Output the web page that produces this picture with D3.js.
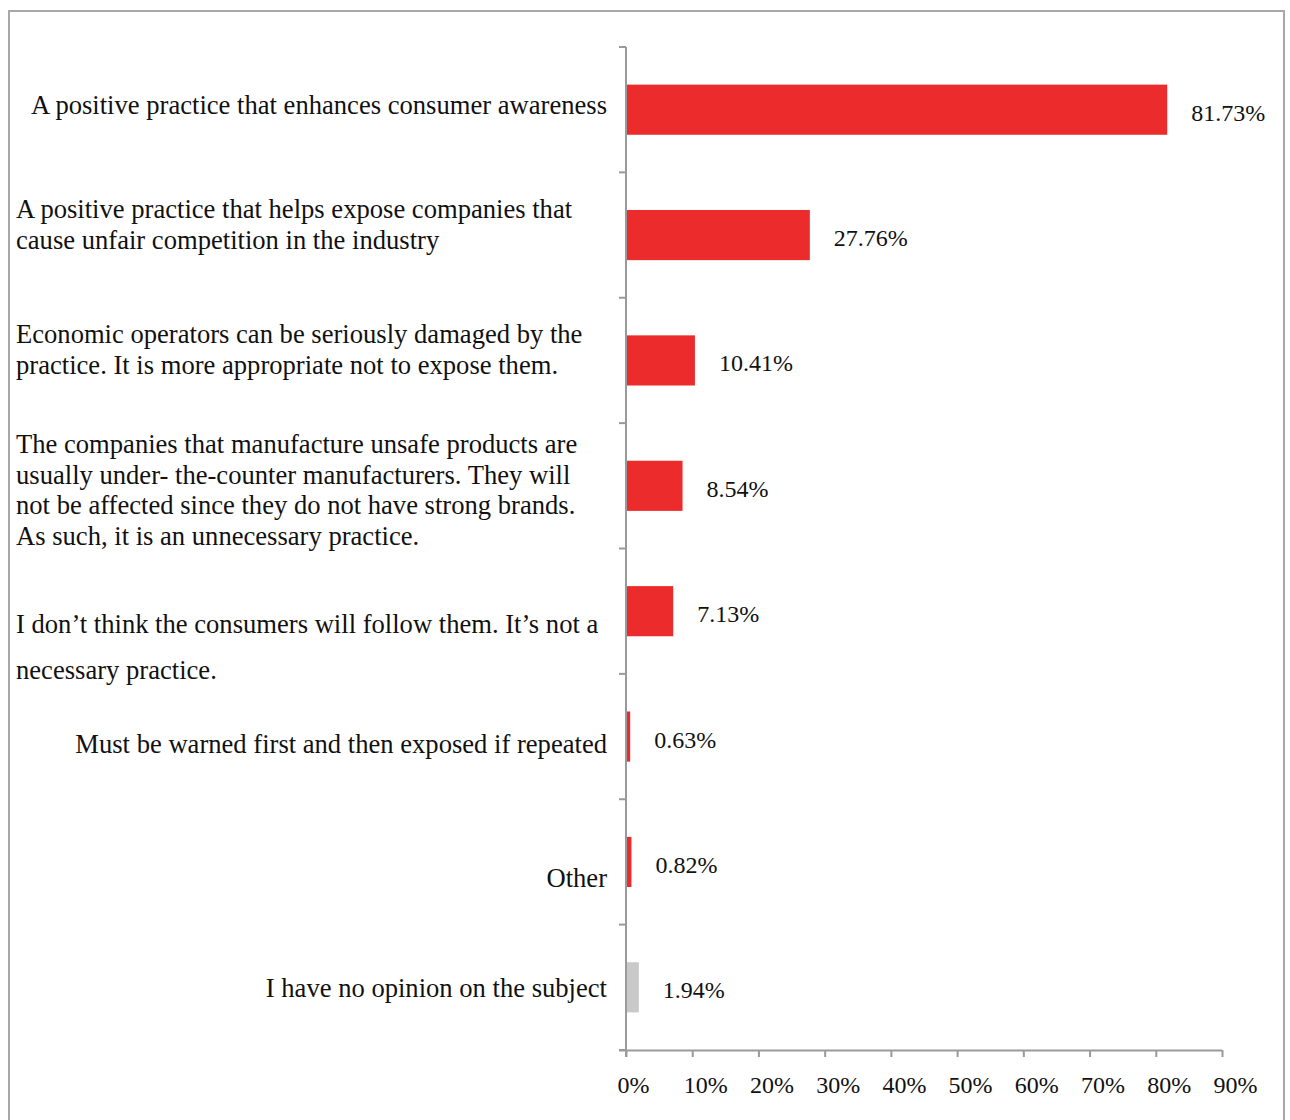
<!DOCTYPE html>
<html>
<head>
<meta charset="utf-8">
<script src="https://cdn.jsdelivr.net/npm/d3@7"></script>
<style>
  html, body { margin: 0; padding: 0; background: #fff; }
  svg { display: block; }
  text { font-family: "Liberation Serif", "Times New Roman", serif; fill: #111; }
</style>
</head>
<body>
<svg id="chart" width="1290" height="1120"></svg>
<script>
// Survey answers, top to bottom (each entry is the list of lines of the answer text)
const categories = [
  ["A positive practice that enhances consumer awareness"],
  ["A positive practice that helps expose companies that",
   "cause unfair competition in the industry"],
  ["Economic operators can be seriously damaged by the",
   "practice. It is more appropriate not to expose them."],
  ["The companies that manufacture unsafe products are",
   "usually under- the-counter manufacturers. They will",
   "not be affected since they do not have strong brands.",
   "As such, it is an unnecessary practice."],
  ["I don\u2019t think the consumers will follow them. It\u2019s not a",
   "necessary practice."],
  ["Must be warned first and then exposed if repeated"],
  ["Other"],
  ["I have no opinion on the subject"]
];
// Share of respondents (%)
const values = [81.73, 27.76, 10.41, 8.54, 7.13, 0.63, 0.82, 1.94];
const valueLabels = ["81.73%", "27.76%", "10.41%", "8.54%", "7.13%", "0.63%", "0.82%", "1.94%"];
// Percent axis ticks
const xTicks = [0, 10, 20, 30, 40, 50, 60, 70, 80, 90];
const xTickLabels = ["0%", "10%", "20%", "30%", "40%", "50%", "60%", "70%", "80%", "90%"];

const svg = d3.select("#chart");
const axisColor = "#9a9a9a";
const barRed = "#ec2b2c";
const barGray = "#c9c9c9";

// Outer frame
svg.append("path")
  .attr("d", "M9,1125 L9,11 L1284,11 L1284,1125")
  .attr("fill", "none").attr("stroke", "#a8a8a8").attr("stroke-width", 2);

const plotLeft = 626, plotRight = 1222, plotTop = 47, plotBottom = 1050;
const x = d3.scaleLinear().domain([0, 90]).range([plotLeft, plotRight]);
const ids = categories.map((_, i) => i);
const y = d3.scaleBand().domain(ids).range([plotTop, plotBottom])
  .paddingInner(0.6).paddingOuter(0.3);
const step = y.step();

// Bars
svg.append("g").selectAll("rect").data(ids).join("rect")
  .attr("x", x(0))
  .attr("y", i => y(i))
  .attr("width", i => x(values[i]) - x(0))
  .attr("height", y.bandwidth())
  .attr("fill", i => i === ids.length - 1 ? barGray : barRed);

// Value labels
svg.append("g").selectAll("text").data(ids).join("text")
  .attr("x", i => x(values[i]) + 24)
  .attr("y", i => y(i) + y.bandwidth() / 2 + 11)
  .attr("font-size", 24)
  .text(i => valueLabels[i]);

// Category axis: vertical line with ticks at band boundaries
const yAxis = svg.append("g");
yAxis.append("line")
  .attr("x1", plotLeft).attr("x2", plotLeft).attr("y1", plotTop).attr("y2", plotBottom + 7)
  .attr("stroke", axisColor).attr("stroke-width", 2);
const bounds = ids.map(i => y(i) - (step - y.bandwidth()) / 2).concat([plotBottom]);
yAxis.selectAll("line.tick").data(bounds).join("line")
  .attr("class", "tick")
  .attr("x1", plotLeft - 7).attr("x2", plotLeft).attr("y1", d => d).attr("y2", d => d)
  .attr("stroke", axisColor).attr("stroke-width", 2);

// Percent axis
const xAxis = svg.append("g").attr("transform", `translate(0,${plotBottom})`)
  .call(d3.axisBottom(x).tickValues(xTicks).tickSize(7).tickSizeOuter(0)
    .tickFormat((d, i) => xTickLabels[i]));
xAxis.select(".domain").attr("stroke", axisColor).attr("stroke-width", 2)
  .attr("d", `M${plotLeft - 7},0.5H${plotRight}`);
xAxis.selectAll(".tick line").attr("stroke", axisColor).attr("stroke-width", 2);
xAxis.selectAll(".tick text")
  .attr("font-family", "'Liberation Serif', 'Times New Roman', serif")
  .attr("font-size", 24).attr("fill", "#111")
  .attr("text-anchor", "start").attr("dx", -9).attr("y", 43).attr("dy", 0);

// Category labels: single lines right-aligned to the axis, wrapped ones left-aligned
const labelDy = [-4, -25, -25, -41, 14, 8, 17, 2];
const lineGap = [0, 31, 31, 30.7, 46, 0, 0, 0];
const lab = svg.append("g");
ids.forEach(i => {
  const lines = categories[i];
  const multi = lines.length > 1;
  const cy = y(i) + y.bandwidth() / 2 + labelDy[i];
  lines.forEach((ln, k) => {
    lab.append("text")
      .attr("x", multi ? 16 : 607)
      .attr("y", cy + k * lineGap[i] + 8)
      .attr("text-anchor", multi ? "start" : "end")
      .attr("font-size", 26.6)
      .text(ln);
  });
});
</script>
</body>
</html>
